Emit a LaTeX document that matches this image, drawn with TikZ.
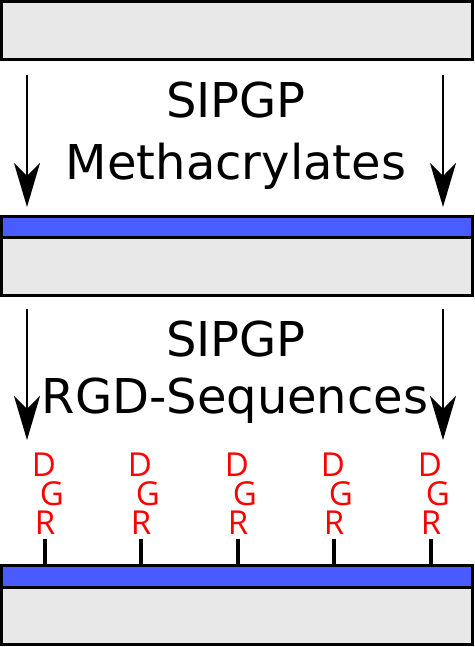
\documentclass[tikz,border=0pt]{standalone}
\usepackage{fontspec}
\setmainfont{DejaVu Sans}
\newfontfamily\peptidefont{Open Sans}
\usetikzlibrary{arrows.meta}
\definecolor{coatblue}{RGB}{72,92,255}
\definecolor{substrategray}{RGB}{232,232,232}
\definecolor{peptidered}{RGB}{255,0,0}
\tikzset{
  slab/.style={draw=black,line width=3pt,fill=substrategray},
  coat/.style={draw=black,line width=3pt,fill=coatblue},
  flow/.style={line width=1.6pt,-{Stealth[length=44pt,width=26pt,inset=13pt]}},
  caption/.style={font=\fontsize{48}{52}\selectfont,anchor=base,inner sep=0pt},
  amino/.style={text=peptidered,font=\peptidefont\fontsize{33}{35}\selectfont,
    anchor=base,inner sep=0pt,text height=0.72em,text depth=0pt},
  linker/.style={line width=3.5pt}
}
\begin{document}
\begin{tikzpicture}[x=1pt,y=-1pt]
  \useasboundingbox (0,0) rectangle (474,647);
  % bare substrate
  \draw[slab] (1.5,1.5) rectangle (472.5,59.5);
  % grafting of the methacrylates
  \coordinate (l1top) at (27,75);  \coordinate (l1end) at (27,207);
  \coordinate (r1top) at (443,75); \coordinate (r1end) at (443,207);
  \draw[flow] (l1top) -- (l1end);
  \draw[flow] (r1top) -- (r1end);
  \node[caption] (sipgp1) at (236,118) {SIPGP};
  \node[caption] (meth) at (236,179) {Methacrylates};
  % coated substrate
  \draw[slab] (1.5,237) rectangle (472.5,295.5);
  \draw[coat] (1.5,216.5) rectangle (472.5,237);
  % coupling of the peptides
  \coordinate (l2top) at (27,309);  \coordinate (l2end) at (27,440);
  \coordinate (r2top) at (443,309); \coordinate (r2end) at (443,440);
  \draw[flow] (l2top) -- (l2end);
  \draw[flow] (r2top) -- (r2end);
  \node[caption] (sipgp2) at (236,356) {SIPGP};
  \node[caption] (rgdseq) at (235,413) {RGD-Sequences};
  % functionalised substrate
  \draw[slab] (1.5,587) rectangle (472.5,644.5);
  \draw[coat] (1.5,565.5) rectangle (472.5,587);
  \foreach \i/\x in {1/45,2/141,3/238,4/334,5/431} {
    \node[amino] (d\i) at (\x-1,476) {D};
    \node[amino] (g\i) at (\x+7,505) {G};
    \node[amino] (r\i) at (\x,534) {R};
    \coordinate (foot\i) at (\x,565);
    \draw[linker] (r\i.south) ++(0,5) -- (foot\i);
  }
\end{tikzpicture}
\end{document}
